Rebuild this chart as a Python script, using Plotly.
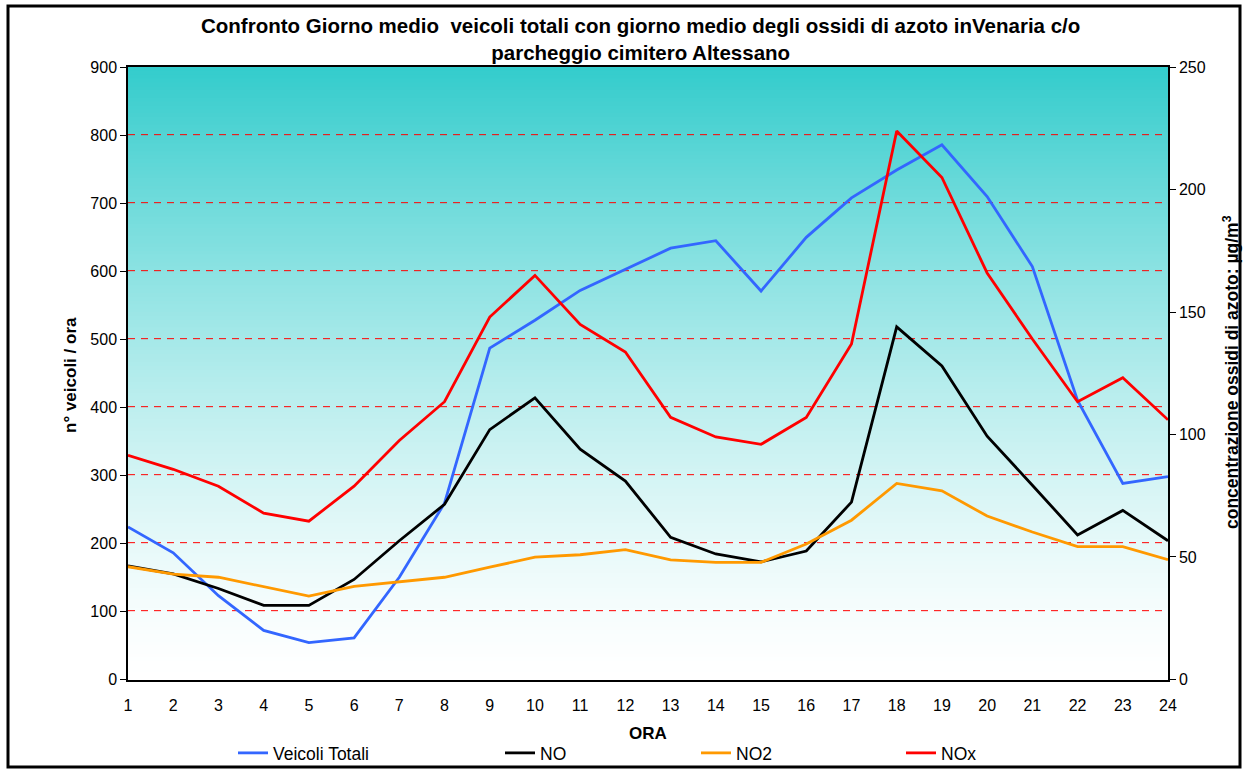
import plotly.graph_objects as go

# Ora del giorno
ore = list(range(1, 25))

# Giorno medio veicoli totali (n° veicoli / ora)
veicoli_totali = [224, 186, 123, 72, 54, 61, 150, 259, 487, 528, 572, 603,
                  634, 645, 571, 650, 708, 749, 786, 710, 607, 410, 288, 298]

# Giorno medio ossidi di azoto (µg/m3)
no = [46.3, 43.1, 37.1, 30.2, 30.2, 40.8, 56.6, 71.5, 102, 115, 94, 81,
      58, 51.2, 48, 52.4, 72.4, 144, 128, 99.3, 79.3, 59, 69, 56.6]
no2 = [46, 43, 41.7, 38, 34, 38, 39.8, 41.7, 45.8, 49.9, 50.9, 53,
       48.8, 47.8, 47.8, 55.3, 65, 80, 77, 66.7, 60.2, 54.2, 54.2, 48.9]
nox = [91.5, 85.8, 78.9, 67.9, 64.6, 78.9, 97.6, 113.4, 148, 165, 145, 133.7,
       107, 99, 96, 107, 137, 224, 205, 166, 139, 113.4, 123.2, 106]

# dashed reference lines on the vehicle axis
grid_values = [100, 200, 300, 400, 500, 600, 700, 800]
# sub-pixel nudge (px) keeping each 1px dash on a single pixel row
GRID_NUDGE_PX = 0.67

FONT = "Liberation Sans, Arial, Helvetica, sans-serif"

# plot area in pixels; 68 px per 100 vehicles
L, R, T, B = 128, 76, 67, 92
W, H = 1244, 772
PW, PH = W - L - R, H - T - B
PX_PER_UNIT = 0.68
Y_TOP = 900 + 0.33 / PX_PER_UNIT
Y_BOT = Y_TOP - PH / PX_PER_UNIT
Y2_TOP = Y_TOP * 250 / 900
Y2_BOT = Y_BOT * 250 / 900


def px_x(px):
    return (px - L) / PW


def px_y(py):
    return (H - B - py) / PH


fig = go.Figure()

LW = 2.8
fig.add_trace(go.Scatter(x=ore, y=veicoli_totali, name="Veicoli Totali", mode="lines",
                         line=dict(color="#3366FF", width=LW), legend="legend",
                         showlegend=True))
fig.add_trace(go.Scatter(x=ore, y=no, name="NO", mode="lines", yaxis="y2",
                         line=dict(color="#000000", width=LW), legend="legend2",
                         showlegend=True))
fig.add_trace(go.Scatter(x=ore, y=no2, name="NO2", mode="lines", yaxis="y2",
                         line=dict(color="#FF9900", width=LW), legend="legend3",
                         showlegend=True))
fig.add_trace(go.Scatter(x=ore, y=nox, name="NOx", mode="lines", yaxis="y2",
                         line=dict(color="#FF0000", width=LW), legend="legend4",
                         showlegend=True))

# vertical teal-to-white gradient behind the plot area
shapes = []
N = 160
for i in range(N):
    f = ((i + 0.5) / N) ** 1.4
    r = round(255 - (255 - 51) * f)
    g = round(255 - (255 - 204) * f)
    shapes.append(dict(type="rect", xref="paper", yref="paper",
                       x0=0, x1=1, y0=i / N, y1=(i + 1) / N + 0.002,
                       fillcolor=f"rgb({r},{g},{g})", line=dict(width=0),
                       layer="below"))

# red dashed horizontal grid
for v in grid_values:
    yv = v + GRID_NUDGE_PX / PX_PER_UNIT
    shapes.append(dict(type="line", xref="paper", yref="y", x0=0, x1=1, y0=yv, y1=yv,
                       line=dict(color="#FF0000", width=1, dash="7px,6px"),
                       layer="between"))

# outer frame
shapes.append(dict(type="rect", xref="paper", yref="paper",
                   x0=px_x(8), x1=px_x(1240), y0=px_y(767), y1=px_y(6),
                   line=dict(color="black", width=3), fillcolor="rgba(0,0,0,0)",
                   layer="above"))

annotations = [
    dict(text="<b>n° veicoli / ora</b>", textangle=-90, xref="paper", yref="paper",
         x=px_x(70), y=px_y(375), xanchor="center", yanchor="middle", showarrow=False,
         font=dict(size=17, family=FONT, color="black")),
    dict(text="<b>concentrazione ossidi di azoto: µg/m<sup>3</sup></b>", textangle=-90,
         xref="paper", yref="paper", x=px_x(1231), y=px_y(372), xanchor="center",
         yanchor="middle", showarrow=False,
         font=dict(size=17.5, family=FONT, color="black")),
    dict(text="<b>ORA</b>", xref="paper", yref="paper", x=px_x(648), y=px_y(733),
         xanchor="center", yanchor="middle",
         showarrow=False, font=dict(size=17, family=FONT, color="black")),
]

legend_common = dict(orientation="h", yanchor="middle", xanchor="left",
                     bgcolor="rgba(0,0,0,0)", font=dict(size=17.5, family=FONT, color="black"),
                     y=px_y(753), itemwidth=30)

fig.update_layout(
    width=W, height=H,
    margin=dict(l=L, r=R, t=T, b=B, autoexpand=False),
    showlegend=True,
    paper_bgcolor="white",
    plot_bgcolor="white",
    title=dict(text="<b>Confronto Giorno medio \u00a0veicoli totali con giorno medio degli ossidi di azoto inVenaria c/o<br>parcheggio cimitero Altessano</b>",
               x=0.515, xanchor="center", y=1 - 33 / H, yanchor="middle",
               font=dict(size=20.5, family=FONT, color="black")),
    font=dict(family=FONT, size=16, color="black"),
    xaxis=dict(range=[1, 24], tickmode="linear", tick0=1, dtick=1,
               showgrid=False, showline=True, linecolor="black", linewidth=1.5,
               mirror=True, ticks="outside", ticklen=10, tickcolor="rgba(0,0,0,0)",
               zeroline=False, tickfont=dict(size=16, family=FONT, color="black")),
    yaxis=dict(range=[Y_BOT, Y_TOP], tickmode="linear", tick0=0, dtick=100,
               showgrid=False,
               showline=True, linecolor="black", linewidth=1.5,
               ticks="outside", ticklen=6, tickcolor="black",
               zeroline=False, tickfont=dict(size=16, family=FONT, color="black")),
    yaxis2=dict(range=[Y2_BOT, Y2_TOP], tickmode="linear", tick0=0, dtick=50,
                overlaying="y", side="right", showgrid=False,
                showline=True, linecolor="black", linewidth=1.5,
                ticks="outside", ticklen=6, tickcolor="black",
                zeroline=False, tickfont=dict(size=16, family=FONT, color="black")),
    legend=dict(x=px_x(233), **legend_common),
    legend2=dict(x=px_x(500), **legend_common),
    legend3=dict(x=px_x(696), **legend_common),
    legend4=dict(x=px_x(901), **legend_common),
    shapes=shapes,
    annotations=annotations,
)

fig.write_html("out.html")
